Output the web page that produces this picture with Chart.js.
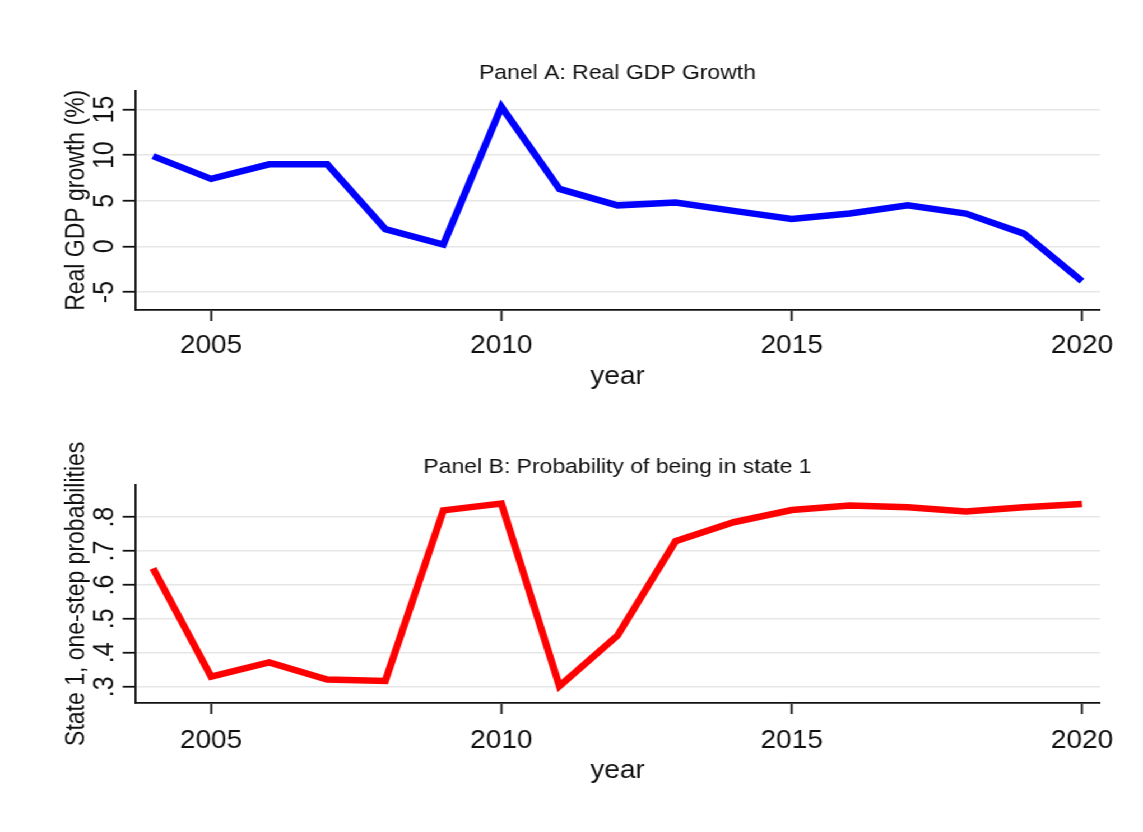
<!DOCTYPE html>
<html>
<head>
<meta charset="utf-8">
<title>Real GDP growth and state 1 probabilities</title>
<script src="https://cdn.jsdelivr.net/npm/chart.js@4.4.1/dist/chart.umd.min.js"></script>
<style>
  html, body { margin: 0; padding: 0; background: #fff; overflow: hidden; }
  /* both panels are laid out on a 1020px stage, then widened to fill the page */
  #stage { position: relative; width: 1020px; height: 832px; transform: scaleX(1.1206); transform-origin: 0 0; }
  .panel { position: absolute; left: 0; width: 1020px; height: 416px; }
  #panelA { top: 0; }
  #panelB { top: 416px; }
</style>
</head>
<body>
<div id="stage">
  <div class="panel" id="panelA"><canvas id="gdpChart"></canvas></div>
  <div class="panel" id="panelB"><canvas id="probChart"></canvas></div>
</div>
<script>
const years = [2004, 2005, 2006, 2007, 2008, 2009, 2010, 2011, 2012, 2013, 2014, 2015, 2016, 2017, 2018, 2019, 2020];
const gdpGrowth = [9.9, 7.4, 9.0, 9.0, 1.9, 0.2, 15.3, 6.3, 4.5, 4.8, 3.9, 3.0, 3.6, 4.5, 3.6, 1.4, -3.8];
const probState1 = [0.649, 0.330, 0.372, 0.321, 0.317, 0.820, 0.840, 0.302, 0.451, 0.729, 0.785, 0.821, 0.834, 0.829, 0.817, 0.829, 0.839];

const yearTicks = [2005, 2010, 2015, 2020];
const gdpTicks = [-5, 0, 5, 10, 15];
const probTicks = [0.3, 0.4, 0.5, 0.6, 0.7, 0.8];

const FONT = '"Liberation Sans", Arial, Helvetica, sans-serif';
const INK = "#111";
const GRID = "#e6e6e6";

function toPoints(values) {
    return years.map((yr, i) => ({ x: yr, y: values[i] }));
}

function makePanel(canvasId, p) {
    return new Chart(document.getElementById(canvasId), {
        type: "line",
        data: {
            datasets: [{
                data: toPoints(p.values),
                borderColor: p.color,
                borderWidth: 6.5,
                pointRadius: 0,
                fill: false,
                tension: 0,
            }],
        },
        options: {
            responsive: true,
            maintainAspectRatio: false,
            animation: false,
            layout: { padding: { top: p.padTop, left: 0, right: 38.4, bottom: 0 } },
            plugins: {
                legend: { display: false },
                tooltip: { enabled: false },
                title: {
                    display: true,
                    fullSize: false, // centre over the plot area
                    text: p.title,
                    color: INK,
                    font: { family: FONT, size: 20.5, weight: "normal" },
                    padding: { top: 0, bottom: 5 },
                },
            },
            scales: {
                x: {
                    type: "linear",
                    min: 2003.69,
                    max: 2020.31,
                    afterBuildTicks: (s) => { s.ticks = yearTicks.map((v) => ({ value: v })); },
                    afterFit: (s) => { s.height = p.xHeight; },
                    grid: { drawOnChartArea: false, drawTicks: true, tickLength: 11, tickColor: INK, tickWidth: 1.8 },
                    border: { display: true, color: INK, width: 1.8 },
                    ticks: {
                        color: INK,
                        font: { family: FONT, size: 25 },
                        padding: p.xTickPad,
                        maxRotation: 0,
                        autoSkip: false,
                        callback: (v) => String(v),
                    },
                    title: {
                        display: true,
                        text: "year",
                        color: INK,
                        font: { family: FONT, size: 25 },
                        padding: { top: 0, bottom: p.xTitlePad },
                    },
                },
                y: {
                    min: p.yMin,
                    max: p.yMax,
                    afterBuildTicks: (s) => { s.ticks = p.yTicks.map((v) => ({ value: v })); },
                    afterFit: (s) => { s.width = 120.5; },
                    grid: { color: GRID, lineWidth: 1.5, drawTicks: true, tickLength: 11, tickColor: INK, tickWidth: 1.8 },
                    border: { display: true, color: INK, width: 1.8 },
                    ticks: {
                        color: INK,
                        font: { family: FONT, size: 25 },
                        padding: p.yTickPad,
                        minRotation: 90,
                        maxRotation: 90,
                        crossAlign: "center",
                        autoSkip: false,
                        callback: p.yFormat,
                    },
                    title: {
                        display: true,
                        text: p.yTitle,
                        color: INK,
                        font: { family: FONT, size: 23 },
                        padding: { top: 54.5, bottom: 0 },
                    },
                },
            },
        },
    });
}

makePanel("gdpChart", {
    values: gdpGrowth,
    color: "#0000ff",
    title: "Panel A: Real GDP Growth",
    yTitle: "Real GDP growth (%)",
    yTicks: gdpTicks,
    yMin: -6.97,
    yMax: 17.08,
    yFormat: (v) => String(v),
    yTickPad: 1,
    padTop: 61,
    xHeight: 106,
    xTickPad: 10,
    xTitlePad: 24,
});

makePanel("probChart", {
    values: probState1,
    color: "#ff0000",
    title: "Panel B: Probability of being in state 1",
    yTitle: "State 1, one-step probabilities",
    yTicks: probTicks,
    yMin: 0.252,
    yMax: 0.896,
    yFormat: (v) => String(v).replace(/^0/, ""),
    yTickPad: 4.5,
    padTop: 39,
    xHeight: 129,
    xTickPad: 12,
    xTitlePad: 46,
});
</script>
</body>
</html>
